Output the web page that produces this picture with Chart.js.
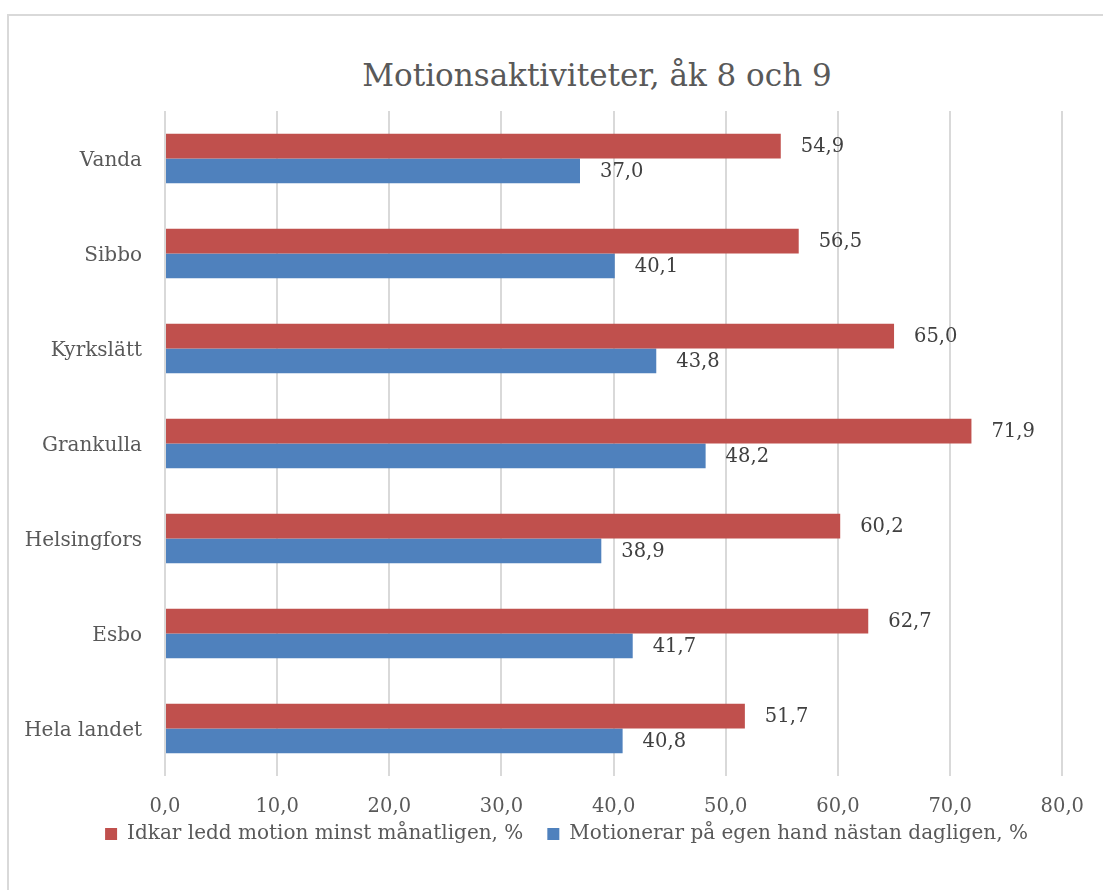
<!DOCTYPE html>
<html lang="sv">
<head>
    <meta charset="UTF-8">
    <title>Motionsaktiviteter, åk 8 och 9</title>
    <script src="https://cdn.jsdelivr.net/npm/chart.js@4.4.1/dist/chart.umd.min.js"></script>
    <style>
        html, body { margin: 0; padding: 0; background: #fff; overflow: hidden; }
        #frame { position: absolute; left: 7px; top: 14px; width: 1178px; height: 900px; border: 2px solid #d9d9d9; }
        #title { position: absolute; left: 0; top: 58px; width: 1194px; text-align: center;
                 font-family: "DejaVu Serif", serif; font-size: 31px; line-height: 34px; color: #595959; }
        #wrap { position: absolute; left: 0; top: 0; width: 1103px; height: 890px; }
    </style>
</head>
<body>
    <div id="frame"></div>
    <div id="title">Motionsaktiviteter, åk 8 och 9</div>
    <div id="wrap"><canvas id="chart"></canvas></div>

    <script>
        // data
        const categories = ['Vanda', 'Sibbo', 'Kyrkslätt', 'Grankulla', 'Helsingfors', 'Esbo', 'Hela landet'];
        const ledd = [54.9, 56.5, 65.0, 71.9, 60.2, 62.7, 51.7];
        const egen = [37.0, 40.1, 43.8, 48.2, 38.9, 41.7, 40.8];
        const xTicks = [0, 10, 20, 30, 40, 50, 60, 70, 80];

        const fmt = v => v.toFixed(1).replace('.', ',');
        const FONT = '"DejaVu Serif", serif';

        // value labels right of each bar
        const valueLabels = {
            id: 'valueLabels',
            afterDatasetsDraw(chart) {
                const ctx = chart.ctx;
                ctx.save();
                ctx.font = '19.5px ' + FONT;
                ctx.fillStyle = '#404040';
                ctx.textBaseline = 'middle';
                ctx.textAlign = 'left';
                chart.data.datasets.forEach((ds, i) => {
                    chart.getDatasetMeta(i).data.forEach((bar, j) => {
                        ctx.fillText(fmt(ds.data[j]), bar.x + 20, bar.y + 1);
                    });
                });
                ctx.restore();
            }
        };

        // the legend in the original sits a bit right of centre and close under the ticks
        const legendShift = {
            id: 'legendShift',
            afterLayout(chart) {
                const lg = chart.legend;
                lg.left += 35;
                lg.right += 35;
                lg.top -= 16;
                lg.bottom -= 16;
            }
        };

        new Chart(document.getElementById('chart'), {
            type: 'bar',
            data: {
                labels: categories,
                datasets: [
                    {
                        label: 'Idkar ledd motion minst månatligen, %',
                        data: ledd,
                        backgroundColor: '#c0504d'
                    },
                    {
                        label: 'Motionerar på egen hand nästan dagligen, %',
                        data: egen,
                        backgroundColor: '#4f81bd'
                    }
                ]
            },
            options: {
                indexAxis: 'y',
                responsive: true,
                maintainAspectRatio: false,
                animation: false,
                categoryPercentage: 0.522,
                barPercentage: 1.0,
                layout: { padding: { left: 0, right: 40, top: 111, bottom: 20 } },
                scales: {
                    x: {
                        min: 0,
                        max: 80,
                        afterBuildTicks: s => { s.ticks = xTicks.map(v => ({ value: v })); },
                        afterFit: s => { s.height = 40; },
                        ticks: {
                            padding: 19,
                            color: '#595959',
                            font: { family: FONT, size: 19.5 },
                            callback: v => fmt(v)
                        },
                        grid: { color: '#d9d9d9', lineWidth: 2, drawTicks: false },
                        border: { display: false }
                    },
                    y: {
                        afterFit: s => { s.width = 165; },
                        ticks: {
                            padding: 15,
                            labelOffset: 2,
                            color: '#595959',
                            font: { family: FONT, size: 20 }
                        },
                        grid: { display: false },
                        border: { display: false }
                    }
                },
                plugins: {
                    title: { display: false },
                    tooltip: { enabled: false },
                    legend: {
                        position: 'bottom',
                        labels: {
                            color: '#595959',
                            font: { family: FONT, size: 20 },
                            boxWidth: 12,
                            boxHeight: 12,
                            padding: 24
                        }
                    }
                }
            },
            plugins: [valueLabels, legendShift]
        });
    </script>
</body>
</html>
